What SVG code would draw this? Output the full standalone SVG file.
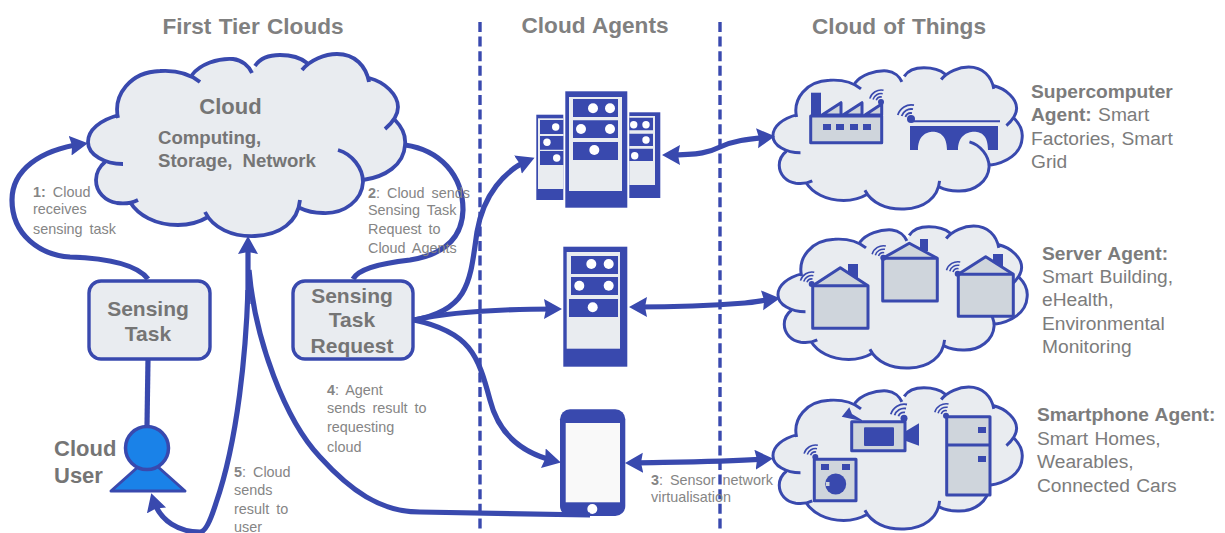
<svg xmlns="http://www.w3.org/2000/svg" width="1225" height="533" viewBox="0 0 1225 533">
<style>
text{font-family:"Liberation Sans",Arial,sans-serif;fill:#7c7c7c}
.t{font-size:22.6px;font-weight:700;text-anchor:middle;word-spacing:1px;fill:#808080}
.b{font-size:21px;font-weight:700;text-anchor:middle;fill:#757575}
.s{font-size:14.4px;word-spacing:3px;fill:#858585}
.r{font-size:19.2px;word-spacing:1px}
.rb{font-weight:700}
.cf{fill:#e9ecf0;stroke:none}
.cs{fill:none;stroke:#3949ae;stroke-width:3.8;stroke-linecap:butt}
.c{fill:none;stroke:#3949ae;stroke-width:5.2}
.dash{stroke:#3949ae;stroke-width:3.4;stroke-dasharray:10 4.6;fill:none}
.box{fill:#e9ecf0;stroke:#3949ae;stroke-width:3.4}
.d{fill:#3949ae}
.l{fill:#e9ecf0}
.w{fill:#fff}
.g{fill:#cfd5dc;stroke:#3949ae;stroke-width:3;stroke-linejoin:round}
.wf{fill:none;stroke:#3949ae;stroke-width:1.8}
</style>
<defs>
<marker id="a" markerUnits="userSpaceOnUse" markerWidth="22" markerHeight="22" refX="12" refY="10" orient="auto-start-reverse"><path d="M0,0 L18,10 L0,20 L2,10 Z" fill="#3949ae"/></marker>
<g id="cloud">
<path class="cf" d="M105,162 C95,155 88,150 88,142 C88,130 100,120 118,117 C113,95 130,72 160,71 C172,70 185,72 192,75 C200,64 218,58 233,59 C242,60 249,66 253,70 C260,58 270,55 280,55 C292,55 297,58 305,65 C312,58 325,54 337,54 C355,54 366,66 369,79 C385,82 398,95 398,107 C398,113 396,117 394,119 C402,127 406,136 405,145 C404,165 385,177 363,180 C362,200 345,214 323,213 C314,213 306,211 300,208 C298,222 280,235 255,236 C232,237 213,228 207,216 C198,223 190,225 178,225 C155,225 138,215 132,202 C127,204 124,204 117,203 C105,201 96,192 96,180 C96,173 100,166 105,162 Z"/>
<path class="cs" d="M118,118 C113,95 130,72 160,71 C175,70 190,74 200,82 M192,75 C200,64 218,58 233,59 C242,60 249,66 252,73 M255,66 C260,58 270,55 280,55 C292,55 301,58 307,63 M302,70 C310,60 325,54 337,54 C355,54 366,66 369,82 M369,78 C385,82 398,95 398,107 C398,116 392,123 385,129 M395,120 C402,127 406,136 405,145 C404,165 385,177 363,180 M338,150 C352,154 363,168 363,182 C362,200 345,214 323,213 C314,213 306,211 300,208 M300,200 C298,222 280,235 255,236 C232,237 213,228 205,212 M208,217 C198,223 190,225 178,225 C155,225 138,215 130,202 M138,200 C130,204 124,204 117,203 C105,201 96,192 96,180 C96,173 100,166 105,162 M123,164 C105,164 88,155 88,142 C88,130 100,120 119,115"/>
</g>
<g id="wifi" class="wf"><path d="M-5.6,-2 A6,6 0 0 1 1,-5.9 M-9.4,-3 A10,10 0 0 1 2,-9.8 M-13.2,-4 A14,14 0 0 1 3,-13.8"/></g>
</defs>

<rect width="1225" height="533" fill="#fff"/>
<text class="t" x="253" y="34">First Tier Clouds</text>
<text class="t" x="595" y="33">Cloud Agents</text>
<text class="t" x="899" y="34">Cloud of Things</text>

<g id="dividers">
<path class="dash" d="M480,22 V533"/>
<path class="dash" d="M720,22 V533"/>
</g>

<g id="first-tier-cloud">
<use href="#cloud"/>
<text class="b" x="230.500" y="114" style="font-size:22px">Cloud</text>
<text class="b" x="158" y="144" style="font-size:18.600px;text-anchor:start">Computing,</text>
<text class="b" x="158" y="167" style="font-size:18.600px;text-anchor:start;word-spacing:5px">Storage, Network</text>
</g>

<g id="sensing-task">
<rect class="box" x="89" y="281" width="121" height="78" rx="12"/>
<text class="b" x="148" y="316">Sensing</text>
<text class="b" x="148" y="341">Task</text>
</g>

<g id="sensing-task-request">
<rect class="box" x="293" y="281" width="120" height="78" rx="12"/>
<text class="b" x="352" y="303">Sensing</text>
<text class="b" x="352" y="327">Task</text>
<text class="b" x="352" y="353">Request</text>
</g>

<g id="cloud-user">
<path d="M111,491 L148,458 L185,491 Z" fill="#1a82e8" stroke="#3949ae" stroke-width="3" stroke-linejoin="round"/>
<circle cx="147" cy="448" r="21.500" fill="#1a82e8" stroke="#3949ae" stroke-width="3.500"/>
<text class="b" x="54" y="456" style="font-size:22px;text-anchor:start">Cloud</text>
<text class="b" x="54" y="483" style="font-size:22px;text-anchor:start">User</text>
</g>

<g id="server-cluster">
<rect class="d" x="536.300" y="114.700" width="27" height="85.300"/>
<rect class="l" x="538" y="118.300" width="25.300" height="70.700"/>
<path class="d" d="M540,120H563.300V134H540ZM540,136H563.300V149.700H540ZM540,151H563.300V165H540Z"/>
<circle class="w" cx="555.700" cy="127" r="3.700"/><circle class="w" cx="547" cy="142.300" r="3.700"/><circle class="w" cx="556.700" cy="158" r="3.700"/>
<rect class="d" x="629.300" y="112.300" width="31" height="85.700"/>
<rect class="l" x="629.300" y="116" width="25.700" height="69"/>
<path class="d" d="M629.300,117.700H653V130.300H629.300ZM629.300,133.700H653V146H629.300ZM629.300,148.700H653V161H629.300Z"/>
<circle class="w" cx="633.700" cy="124.700" r="3.700"/><circle class="w" cx="646" cy="124.700" r="3.700"/><circle class="w" cx="646" cy="140" r="3.700"/><circle class="w" cx="634.700" cy="155.700" r="3.700"/>
<rect class="d" x="565.300" y="91.300" width="62" height="116.400"/>
<rect class="l" x="569" y="97" width="53" height="94"/>
<path class="d" d="M573,99H618V117H573ZM573,120.300H618V138H573ZM573,142H618V160H573Z"/>
<circle class="w" cx="593" cy="108.300" r="5"/><circle class="w" cx="610" cy="108.300" r="5"/><circle class="w" cx="581" cy="129" r="5"/><circle class="w" cx="610" cy="129" r="5"/><circle class="w" cx="594.300" cy="150" r="5"/>
</g>

<g id="server">
<rect class="d" x="563.300" y="246.700" width="64" height="120"/>
<rect class="l" x="566.700" y="252" width="53.300" height="96.700"/>
<path class="d" d="M571,256H618V274H571ZM571,277H618V295H571ZM569,299H618V317H569Z"/>
<circle class="w" cx="591.300" cy="264" r="5"/><circle class="w" cx="608.700" cy="264" r="5"/><circle class="w" cx="579.300" cy="285.700" r="5"/><circle class="w" cx="608.700" cy="285.700" r="5"/><circle class="w" cx="592.700" cy="307.300" r="5"/>
</g>

<g id="smartphone">
<rect class="d" x="560" y="409.300" width="65.300" height="106.700" rx="10"/>
<rect x="565.700" y="423" width="54.300" height="79.300" fill="#f9f9f9"/>
<circle class="w" cx="592.300" cy="509" r="5"/>
</g>

<g id="cloud-factories">
<use href="#cloud" transform="translate(703.800,24.900) scale(.786,.78)"/>
<rect class="d" x="811" y="92.700" width="10" height="24"/>
<path class="g" d="M822,115 L841,102.700 V115 Z M843,115 L862,102.700 V115 Z M865,115 L881.700,104 V115 Z"/>
<rect class="g" x="810.700" y="116" width="71" height="26.700"/>
<path class="d" d="M823,124h8v6h-8zM836,124h8v6h-8zM850,124h8v6h-8zM863,124h8v6h-8z"/>
<circle class="d" cx="881" cy="102" r="3"/>
<use href="#wifi" transform="translate(881,102) scale(.85)"/>
<circle class="d" cx="911" cy="119" r="4"/>
<use href="#wifi" transform="translate(911,119)"/>
<path d="M911,121.300H1000" stroke="#3949ae" stroke-width="2" fill="none"/>
<path class="d" d="M910,126H998V150H988C988,136 982,131.700 974,131.700C967,131.700 958,136 958,150H947C947,136 940,131.700 933,131.700C926,131.700 918,136 918,150H910Z"/>
</g>

<g id="cloud-buildings">
<use href="#cloud" transform="translate(708.800,183.900) scale(.786,.78)"/>
<rect class="d" x="848" y="264" width="10" height="14"/>
<path class="g" d="M812.700,285.700 L840.300,267.700 L868,285.700 V328.300 H812.700 Z"/><path class="g" d="M812.700,285.700H868" style="fill:none"/>
<circle class="d" cx="811.700" cy="284" r="3"/><use href="#wifi" transform="translate(811.700,284) scale(.85)"/>
<rect class="d" x="920" y="239" width="8" height="12"/>
<path class="g" d="M882.700,258.300 L909.300,243.300 L937.300,258.300 V301 H882.700 Z"/><path class="g" d="M882.700,258.300H937.300" style="fill:none"/>
<circle class="d" cx="883.300" cy="257.700" r="3"/><use href="#wifi" transform="translate(883.300,257.700) scale(.85)"/>
<rect class="d" x="993" y="254" width="10" height="12"/>
<path class="g" d="M958.300,274.300 L985.700,256.700 L1013.300,274.300 V316.300 H958.300 Z"/><path class="g" d="M958.300,274.300H1013.300" style="fill:none"/>
<circle class="d" cx="957.700" cy="273.700" r="3"/><use href="#wifi" transform="translate(957.700,273.700) scale(.85)"/>
</g>

<g id="cloud-home">
<use href="#cloud" transform="translate(703.800,344.900) scale(.786,.78)"/>
<path class="d" d="M841.700,416.700 L849.300,407.300 L852,414 L862,420 L862,421 L852,419 Z"/>
<rect class="g" x="851.700" y="421.700" width="53.300" height="29"/>
<rect class="d" x="864" y="427.300" width="30" height="18.700" rx="1"/>
<path class="d" d="M906,431 L919,423.300 V445.700 L906,441 Z"/>
<circle class="d" cx="904" cy="418.300" r="3.500"/><use href="#wifi" transform="translate(904,418.300)"/>
<rect class="g" x="814.300" y="459.300" width="41.700" height="41.400"/>
<path class="d" d="M821,464h8v6h-8zM842,464h8v6h-8z"/>
<circle class="d" cx="835.700" cy="484" r="10.500"/><rect x="826" y="482" width="3.500" height="4" fill="#cfd5dc"/>
<circle class="d" cx="815.300" cy="457" r="3"/><use href="#wifi" transform="translate(815.300,457) scale(.85)"/>
<rect class="g" x="946.700" y="416.700" width="43.300" height="78.300"/>
<path class="g" d="M946.700,445H990" style="fill:none"/>
<path class="d" d="M978,427h8v6h-8zM978,456h8v6h-8z"/>
<circle class="d" cx="946" cy="415.700" r="3"/><use href="#wifi" transform="translate(946,415.700) scale(.85)"/>
</g>

<g id="connectors">
<path class="c" marker-end="url(#a)" d="M148,279 C135,262 100,258 70,257 C40,255 12,235 12,200 C12,170 40,150 82,144"/>
<path class="c" d="M353,279 C358,270 375,264 410,260 C435,256 462,245 463,210 C463,175 440,150 405,145"/>
<path class="c" d="M148,359 L147,426"/>
<path class="c" marker-end="url(#a)" d="M248,304 L248,242"/>
<path class="c" marker-end="url(#a)" d="M248,290 C246,350 238,440 216,503 C210,522 205,532 200,532 C180,532 160,522 153,499"/>
<path class="c" d="M249,270 C255,340 285,420 320,457 C350,490 380,512 420,512 L590,515"/>
<path class="c" marker-end="url(#a)" d="M414,320 C470,310 470,280 477,232 C483,195 505,170 529,160"/>
<path class="c" marker-end="url(#a)" d="M414,320 C450,312 500,309 556,309"/>
<path class="c" marker-end="url(#a)" d="M414,320 C470,332 478,355 490,400 C500,440 530,455 555,461"/>
<path class="c" marker-start="url(#a)" marker-end="url(#a)" d="M668,155 C700,155 710,152 720,147 C735,140 750,139 769,137"/>
<path class="c" marker-start="url(#a)" marker-end="url(#a)" d="M635,307 C680,307 720,305 745,303 C755,302 765,300 774,299"/>
<path class="c" marker-start="url(#a)" marker-end="url(#a)" d="M631,463 C680,462 720,462 767,459"/>
</g>

<g id="labels">
<text class="s" x="33" y="197"><tspan class="rb">1:</tspan> Cloud</text>
<text class="s" x="33" y="214">receives</text>
<text class="s" x="33" y="234">sensing task</text>
<text class="s" x="368" y="198"><tspan class="rb">2</tspan>: Cloud sends</text>
<text class="s" x="368" y="215">Sensing Task</text>
<text class="s" x="368" y="234">Request to</text>
<text class="s" x="368" y="253">Cloud Agents</text>
<text class="s" x="327" y="395"><tspan class="rb">4</tspan>: Agent</text>
<text class="s" x="327" y="413">sends result to</text>
<text class="s" x="327" y="432">requesting</text>
<text class="s" x="327" y="452">cloud</text>
<text class="s" x="234" y="477"><tspan class="rb">5</tspan>: Cloud</text>
<text class="s" x="234" y="495">sends</text>
<text class="s" x="234" y="514">result to</text>
<text class="s" x="234" y="532">user</text>
<text class="s" x="651" y="485"><tspan class="rb">3</tspan>: Sensor network</text>
<text class="s" x="651" y="502">virtualisation</text>
<text class="r" x="1031" y="98"><tspan class="rb">Supercomputer</tspan></text>
<text class="r" x="1031" y="121"><tspan class="rb">Agent:</tspan> Smart</text>
<text class="r" x="1031" y="145">Factories, Smart</text>
<text class="r" x="1031" y="168">Grid</text>
<text class="r" x="1042" y="260"><tspan class="rb">Server Agent:</tspan></text>
<text class="r" x="1042" y="283">Smart Building,</text>
<text class="r" x="1042" y="306">eHealth,</text>
<text class="r" x="1042" y="330">Environmental</text>
<text class="r" x="1042" y="353">Monitoring</text>
<text class="r" x="1037" y="421"><tspan class="rb">Smartphone Agent:</tspan></text>
<text class="r" x="1037" y="445">Smart Homes,</text>
<text class="r" x="1037" y="468">Wearables,</text>
<text class="r" x="1037" y="492">Connected Cars</text>
</g>
</svg>
